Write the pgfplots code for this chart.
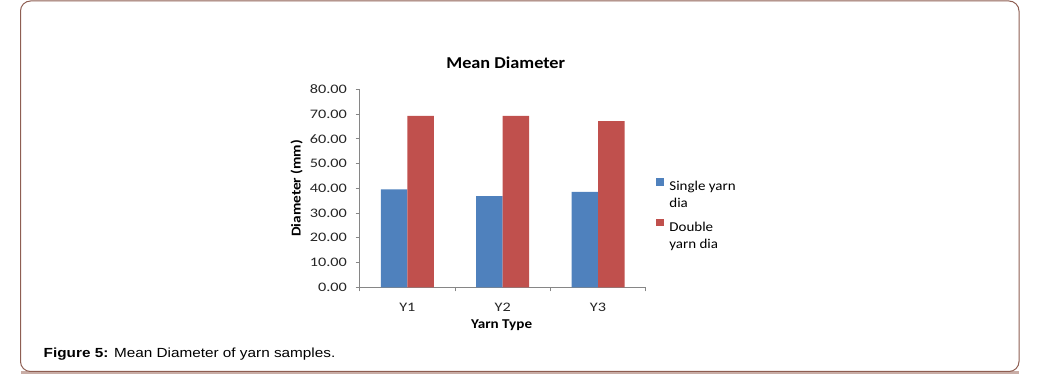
\documentclass[border=0pt]{standalone}
\usepackage{pgfplots}
\pgfplotsset{compat=1.18}
\usepackage{fontspec}
\setmainfont{Carlito}
\newfontfamily\arial{Liberation Sans}
\definecolor{xblue}{HTML}{4F81BD}
\definecolor{xred}{HTML}{C0504D}
\definecolor{axgray}{HTML}{868686}
\definecolor{frameA}{HTML}{8E5E52}
\definecolor{frameB}{HTML}{C9ADA6}
\newcommand{\lgent}[2]{\scalebox{1.11}[1]{\begin{tabular}[t]{@{}l@{}}#1\\#2\end{tabular}}}
\begin{document}
\begin{tikzpicture}[x=1pt,y=1pt]
\useasboundingbox (0,0) rectangle (1053,375);
\draw[frameB, line width=2.2pt, rounded corners=10pt] (21,2.5) -- (1018.5,2.5);
\draw[frameA, line width=1pt, rounded corners=10pt] (20.5,3.5) rectangle (1019,374);
\node[anchor=base west, font=\arial\fontsize{13.2}{15}\selectfont, xscale=1.16, inner sep=0pt] at (43.5,17.7) {\textbf{Figure 5:} Mean Diameter of yarn samples.};
\begin{axis}[
  at={(359.7pt,87.7pt)}, anchor=south west,
  scale only axis, width=286pt, height=198pt,
  xmin=-0.5, xmax=2.5, ymin=0, ymax=80,
  axis x line*=bottom, axis y line*=left,
  axis line style={draw=axgray, line width=0.8pt},
  ytick={0,10,...,80},
  tick label style={font=\fontsize{13}{15}\selectfont, xscale=1.25, text=black!85},
  yticklabel style={xshift=-3.5pt, /pgf/number format/.cd, fixed, fixed zerofill, precision=2, assume math mode=true},
  xticklabel style={yshift=-8pt},
  tick align=outside, major tick length=4pt, minor tick length=4pt,
  tick style={draw=axgray, line width=0.8pt},
  xtick={0,1,2}, xticklabels={Y1,Y2,Y3},
  major x tick style={draw=none},
  minor xtick={-0.5,0.5,1.5,2.5},
  minor x tick style={draw=axgray, line width=0.8pt},
  ybar=0pt, bar width=26.5pt,
  title={Mean Diameter},
  title style={font=\bfseries\fontsize{16.6}{19}\selectfont, xscale=1.1, at={(axis description cs:0.5105,1)}, anchor=center, yshift=20.3pt},
  xlabel={Yarn Type},
  xlabel style={font=\bfseries\fontsize{13.5}{16}\selectfont, xscale=1.12, at={(axis description cs:0.496,-0.19)}, anchor=center},
  ylabel={Diameter (mm)},
  ylabel style={font=\bfseries\fontsize{13.5}{16}\selectfont, at={(axis description cs:-0.2203,0.5)}, anchor=center, xscale=1.13},
  legend style={draw=none, fill=none, at={(axis description cs:1.035,0.557)}, anchor=north west,
    font=\fontsize{13.5}{16.6}\selectfont, row sep=23.6pt, column sep=3pt, inner sep=0pt},
  legend cell align=left,
  legend image code/.code={\fill[#1] (0pt,0pt) rectangle (8.5pt,7.5pt);},
  clip=false,
]
\addplot[fill=xblue, draw=none] coordinates {(0,39.6) (1,36.8) (2,38.6)};
\addplot[fill=xred, draw=none] coordinates {(0,69.3) (1,69.3) (2,67.1)};
\legend{\lgent{Single yarn}{dia}, \lgent{Double}{yarn dia}}
\end{axis}
\end{tikzpicture}
\end{document}
